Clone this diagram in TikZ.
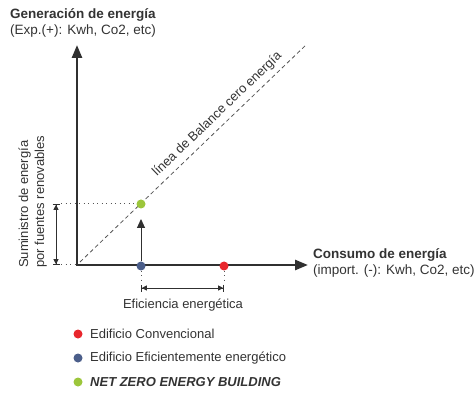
\documentclass[tikz,border=0pt]{standalone}
\usepackage{fontspec}
\setmainfont{Liberation Sans}
\usetikzlibrary{arrows.meta}

\definecolor{txtgray}{HTML}{333333}
\definecolor{axisgray}{HTML}{303030}
\definecolor{lightgray}{HTML}{555555}
\definecolor{convred}{HTML}{E8262C}
\definecolor{effblue}{HTML}{4B5E8A}
\definecolor{zerogreen}{HTML}{9CC63B}

\begin{document}
\begin{tikzpicture}[x=1pt,y=1pt,
	axis/.style={draw=axisgray,line width=2.6pt,line join=miter,{Triangle[length=13pt,width=10pt]}-{Triangle[length=13pt,width=10pt]}},
	dot/.style={circle,inner sep=0pt,minimum size=9pt},
	dimline/.style={draw=axisgray,line width=0.8pt,{Bar[width=7pt]Triangle[length=5pt,width=5pt]}-{Triangle[length=5pt,width=5pt]Bar[width=7pt]}},
	dotline/.style={draw=lightgray,line width=1pt,dash pattern=on 1.2pt off 3.3pt},
	diag/.style={draw=lightgray,line width=0.8pt,dash pattern=on 4pt off 3pt},
	lbl/.style={font=\fontsize{13}{16}\selectfont,text=txtgray,inner sep=0pt},
	title/.style={font=\fontsize{13.5}{16.5}\selectfont,text=txtgray,inner sep=0pt,align=left}]
	\useasboundingbox (0,0) rectangle (474,394);

	% axes
	\coordinate (o) at (77,129);
	\coordinate (ytop) at (77,349);
	\coordinate (xend) at (308,129);
	\coordinate (dtop) at (307,350);
	\draw[axis] (ytop) -- (o) -- (xend);

	% zero balance line
	\draw[diag] ([shift={(3,3)}]o) -- (dtop)
		node[lbl,sloped,above=5pt,pos=0.64]{línea de Balance cero energía};

	% buildings
	\node[dot,fill=zerogreen] (green) at (141,190) {};
	\node[dot,fill=effblue] (blue) at (141,128) {};
	\node[dot,fill=convred] (red) at (224,128) {};
	\coordinate (tip) at (141,175);
	\draw[draw=axisgray,line width=1pt,-{Triangle[length=9pt,width=8pt]}] (blue) -- (tip);

	% renewable supply
	\coordinate (s1) at (56,190);
	\coordinate (s2) at (56,129);
	\draw[dimline] (s2) -- (s1);
	\draw[dotline] ([xshift=5pt]s1) -- (green);
	\draw[dotline] ([xshift=5pt]s2) -- (o);
	\node[lbl,rotate=90,anchor=south west,align=left] (supply) at (47,126)
		{Suministro de energía\\por fuentes renovables};

	% efficiency
	\coordinate (e1) at (141,106);
	\coordinate (e2) at (224,106);
	\draw[dotline] (blue) -- ([yshift=4pt]e1);
	\draw[dotline] (red) -- ([yshift=4pt]e2);
	\draw[dimline] (e1) -- (e2);
	\node[lbl] (eff) at (183,89) {Eficiencia energética};

	% axis titles
	\node[title,anchor=north west] (gen) at (10,386)
		{\textbf{Generación de energía}\\(Exp.(+): Kwh, Co2, etc)};
	\node[title,anchor=north west] (cons) at (313,146)
		{\textbf{Consumo de energía}\\(import. (-): Kwh, Co2, etc)};

	% legend
	\node[dot,fill=convred] (l1) at (78,60) {};
	\node[dot,fill=effblue] (l2) at (78,36) {};
	\node[dot,fill=zerogreen] (l3) at (78,12) {};
	\node[lbl,anchor=west] at (90,60) {Edificio Convencional};
	\node[lbl,anchor=west] at (90,36) {Edificio Eficientemente energético};
	\node[lbl,anchor=west] at (90,12) {\textbf{\textit{NET ZERO ENERGY BUILDING}}};
\end{tikzpicture}
\end{document}
